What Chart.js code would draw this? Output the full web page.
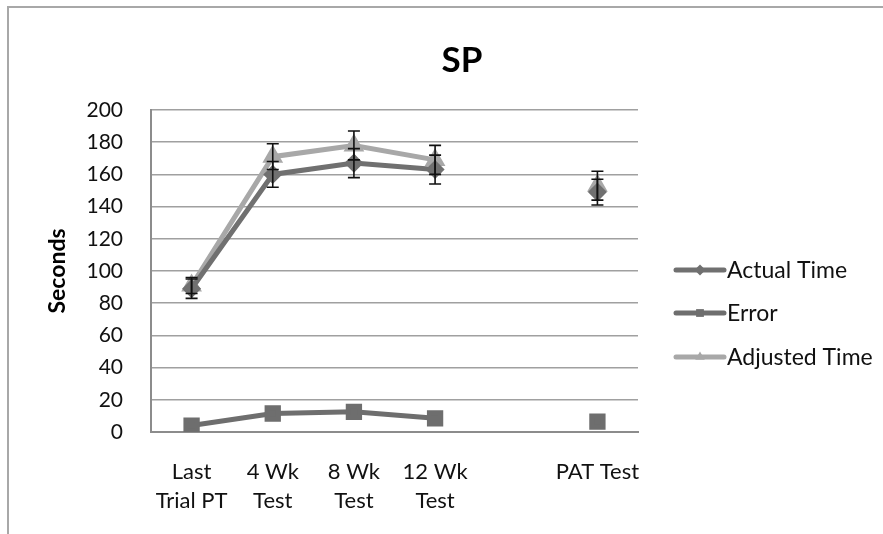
<!DOCTYPE html>
<html>
<head>
<meta charset="utf-8">
<script src="https://cdn.jsdelivr.net/npm/chart.js@4"></script>
<style>
  html, body { margin: 0; padding: 0; background: #fff; overflow: hidden; }
  #wrap { position: relative; width: 883px; height: 534px; }
  #frame { position: absolute; left: 7px; top: 6px; width: 1000px; height: 1000px;
           border-left: 2px solid #a8a8a8; border-top: 2px solid #a8a8a8; }
  canvas { position: absolute; left: 0; top: 0; }
</style>
</head>
<body>
<div id="wrap">
  <div id="frame"></div>
  <canvas id="c" width="883" height="534"></canvas>
</div>
<script>
const categories = [["Last", "Trial PT"], ["4 Wk", "Test"], ["8 Wk", "Test"], ["12 Wk", "Test"], "", ["PAT Test"]];
const actualTime   = [89, 160, 167, 163, null, 149];
const errorValues  = [4, 11.5, 12.5, 8.5, null, 6.5];
const adjustedTime = [91, 171, 178, 169, null, 153];
const actualErr    = [6, 8, 9, 9, null, 8];
const adjustedErr  = [5, 8, 9, 9, null, 9];
const yTicks = [0, 20, 40, 60, 80, 100, 120, 140, 160, 180, 200];
const chartTitle = "SP";
const yTitle = "Seconds";

const FONT = "Lato, 'Open Sans', sans-serif";

const errorBars = {
  id: 'errorBars',
  afterDatasetsDraw(chart) {
    const ctx = chart.ctx;
    const y = chart.scales.y;
    ctx.save();
    ctx.strokeStyle = '#111';
    ctx.lineWidth = 1.6;
    chart.data.datasets.forEach((ds, di) => {
      if (!ds.errors) return;
      const meta = chart.getDatasetMeta(di);
      ds.data.forEach((v, i) => {
        const e = ds.errors[i];
        if (v == null || e == null) return;
        const x = meta.data[i].x;
        const yt = y.getPixelForValue(v + e);
        const yb = y.getPixelForValue(v - e);
        ctx.beginPath();
        ctx.moveTo(x, yt); ctx.lineTo(x, yb);
        ctx.moveTo(x - 6, yt); ctx.lineTo(x + 6, yt);
        ctx.moveTo(x - 6, yb); ctx.lineTo(x + 6, yb);
        ctx.stroke();
      });
    });
    ctx.restore();
  }
};

const customLegend = {
  id: 'customLegend',
  afterDraw(chart) {
    const ctx = chart.ctx;
    ctx.save();
    const ys = [270, 313, 357];
    chart.data.datasets.forEach((ds, i) => {
      const yy = ys[i];
      ctx.strokeStyle = ds.borderColor;
      ctx.lineWidth = 5;
      ctx.lineCap = 'round';
      ctx.beginPath();
      ctx.moveTo(676, yy); ctx.lineTo(724, yy);
      ctx.stroke();
      ctx.fillStyle = ds.pointBackgroundColor;
      Chart.helpers.drawPoint(ctx, {pointStyle: ds.pointStyle, radius: 5.5, rotation: 0, borderWidth: 0}, 700, yy);
      ctx.fillStyle = '#111';
      ctx.font = "23px " + FONT;
      ctx.textBaseline = 'middle';
      ctx.textAlign = 'left';
      ctx.fillText(ds.label, 727, yy + 1);
    });
    ctx.restore();
  }
};

const titlePlugin = {
  id: 'titleText',
  afterDraw(chart) {
    const ctx = chart.ctx;
    ctx.save();
    ctx.fillStyle = '#000';
    ctx.font = "bold 35px " + FONT;
    ctx.textAlign = 'center';
    ctx.textBaseline = 'middle';
    ctx.fillText(chartTitle, 462, 61);
    ctx.restore();
  }
};

new Chart(document.getElementById('c'), {
  type: 'line',
  data: {
    labels: categories,
    datasets: [
      { label: 'Actual Time', data: actualTime, errors: actualErr,
        borderColor: '#707070', backgroundColor: '#707070', pointBackgroundColor: '#707070',
        pointBorderColor: '#707070', borderWidth: 5, pointStyle: 'rectRot', pointRadius: 6 },
      { label: 'Error', data: errorValues,
        borderColor: '#6e6e6e', backgroundColor: '#6e6e6e', pointBackgroundColor: '#6e6e6e',
        pointBorderColor: '#6e6e6e', borderWidth: 5, pointStyle: 'rect', pointRadius: 8 },
      { label: 'Adjusted Time', data: adjustedTime, errors: adjustedErr,
        borderColor: '#a8a8a8', backgroundColor: '#a8a8a8', pointBackgroundColor: '#a8a8a8',
        pointBorderColor: '#a8a8a8', borderWidth: 5, pointStyle: 'triangle', pointRadius: 7 }
    ]
  },
  options: {
    responsive: false,
    animation: false,
    spanGaps: false,
    layout: { padding: { left: 40, right: 245, top: 110, bottom: 0 } },
    plugins: { legend: { display: false }, title: { display: false }, tooltip: { enabled: false } },
    scales: {
      x: {
        offset: true,
        grid: { display: false, drawTicks: false, offset: true },
        border: { display: true, color: '#8c8c8c', width: 2 },
        ticks: { color: '#111', font: { family: FONT, size: 22, lineHeight: 1.29 }, padding: 26, maxRotation: 0, autoSkip: false },
        afterFit(s) { s.height = 102; }
      },
      y: {
        min: 0, max: 200,
        afterBuildTicks(s) { s.ticks = yTicks.map(v => ({ value: v })); },
        grid: { color: '#a0a0a0', lineWidth: 1.5, drawTicks: false },
        border: { display: true, color: '#8c8c8c', width: 2 },
        ticks: { color: '#111', font: { family: FONT, size: 21 }, padding: 28 },
        title: { display: true, text: yTitle, color: '#000', font: { family: FONT, size: 23, weight: 'bold', lineHeight: 1.2 }, padding: { top: 4, bottom: 0 } },
        afterFit(s) { s.width = 111; }
      }
    }
  },
  plugins: [errorBars, customLegend, titlePlugin]
});
</script>
</body>
</html>
